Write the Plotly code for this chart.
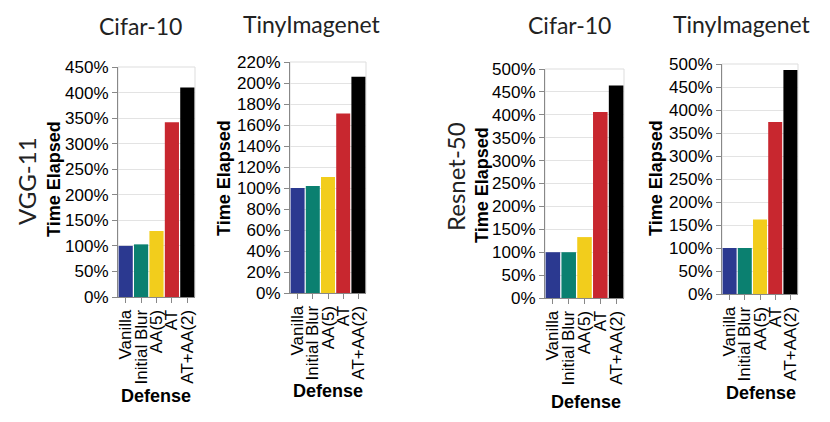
import plotly.graph_objects as go

categories = ["Vanilla", "Initial Blur", "AA(5)", "AT", "AT+AA(2)"]
bar_colors = ["#2b3990", "#0b8070", "#f2cd1c", "#c8272f", "#000000"]

vgg_cifar = [1.00, 1.03, 1.29, 3.42, 4.10]
vgg_tiny = [1.00, 1.02, 1.105, 1.71, 2.06]
resnet_cifar = [1.00, 1.00, 1.33, 4.06, 4.64]
resnet_tiny = [1.00, 1.00, 1.62, 3.74, 4.87]

panel_titles = ["Cifar-10", "TinyImagenet", "Cifar-10", "TinyImagenet"]
row_labels = ["VGG-11", "Resnet-50"]
y_title = "Time Elapsed"
x_title = "Defense"

W, H = 830, 422
SANS = "Liberation Sans"

series = [vgg_cifar, vgg_tiny, resnet_cifar, resnet_tiny]
y_ranges = [(0, 4.5, 0.5), (0, 2.2, 0.2), (0, 5.0, 0.5), (0, 5.0, 0.5)]
# pixel boxes: x0, x1, ytop, ybottom
boxes = [(118, 195, 67, 297), (290, 366, 62, 293), (545, 624, 69, 298), (722, 798, 64, 294)]
title_pos = [(140, 26), (312, 24), (569, 25), (742, 24)]
ytitle_pos = [(54, 179), (224, 178), (482, 185), (656, 178)]
xtitle_pos = [(156, 396), (328, 391), (586, 402), (761, 393)]
row_pos = [(26, 181), (456, 177)]

fig = go.Figure()
annotations = []
shapes = []
for i, vals in enumerate(series):
    n = "" if i == 0 else str(i + 1)
    fig.add_trace(go.Bar(
        x=categories, y=vals, marker=dict(color=bar_colors, line=dict(width=0)),
        xaxis="x" + n, yaxis="y" + n, showlegend=False,
    ))
    x0, x1, yt, yb = boxes[i]
    r0, r1, dt = y_ranges[i]
    fig.layout["xaxis" + n] = dict(
        domain=[x0 / W, x1 / W], anchor="y" + n, type="category",
        tickmode="array", tickvals=categories, ticktext=categories,
        tickangle=-90, tickfont=dict(family=SANS, size=17, color="black"),
        showline=True, linecolor="#888", linewidth=1, ticks="outside", ticklen=5,
        tickcolor="#888", showgrid=False, zeroline=False, fixedrange=True,
        automargin=False,
    )
    fig.layout["yaxis" + n] = dict(
        domain=[1 - yb / H, 1 - yt / H], anchor="x" + n, range=[r0, r1], dtick=dt,
        tick0=0, tickformat=".0%",
        tickfont=dict(family=SANS, size=17, color="black"),
        showline=True, linecolor="#888", linewidth=1, ticks="outside", ticklen=5,
        tickcolor="#888", showgrid=True, gridcolor="#e3e3e3", gridwidth=1,
        zeroline=False, fixedrange=True, automargin=False,
    )
    shapes.append(dict(type="rect", xref="x" + n + " domain", yref="y" + n + " domain",
                       x0=0, x1=1, y0=0, y1=1, line=dict(color="#dddddd", width=1),
                       layer="below"))
    tx, ty = title_pos[i]
    annotations.append(dict(text=panel_titles[i], x=tx / W, y=1 - ty / H, xref="paper", yref="paper",
                            showarrow=False, xanchor="center", yanchor="middle",
                            font=dict(family="Lato", size=23, color="#222")))
    ax, ay = ytitle_pos[i]
    annotations.append(dict(text="<b>" + y_title + "</b>", x=ax / W, y=1 - ay / H, xref="paper", yref="paper",
                            showarrow=False, xanchor="center", yanchor="middle", textangle=-90,
                            font=dict(family=SANS, size=18, color="black")))
    bx, by = xtitle_pos[i]
    annotations.append(dict(text="<b>" + x_title + "</b>", x=bx / W, y=1 - by / H, xref="paper", yref="paper",
                            showarrow=False, xanchor="center", yanchor="middle",
                            font=dict(family=SANS, size=18, color="black")))

for j, lab in enumerate(row_labels):
    rx, ry = row_pos[j]
    annotations.append(dict(text=lab, x=rx / W, y=1 - ry / H, xref="paper", yref="paper",
                            showarrow=False, xanchor="center", yanchor="middle", textangle=-90,
                            font=dict(family="Lato", size=24, color="#222")))

fig.update_layout(
    width=W, height=H, margin=dict(l=0, r=0, t=0, b=0, autoexpand=False),
    paper_bgcolor="white", plot_bgcolor="white", bargap=0.08,
    annotations=annotations, shapes=shapes,
)
fig.write_html("out.html", config={"displayModeBar": False},
               post_script="document.body.style.margin='0';document.body.style.padding='0';")
